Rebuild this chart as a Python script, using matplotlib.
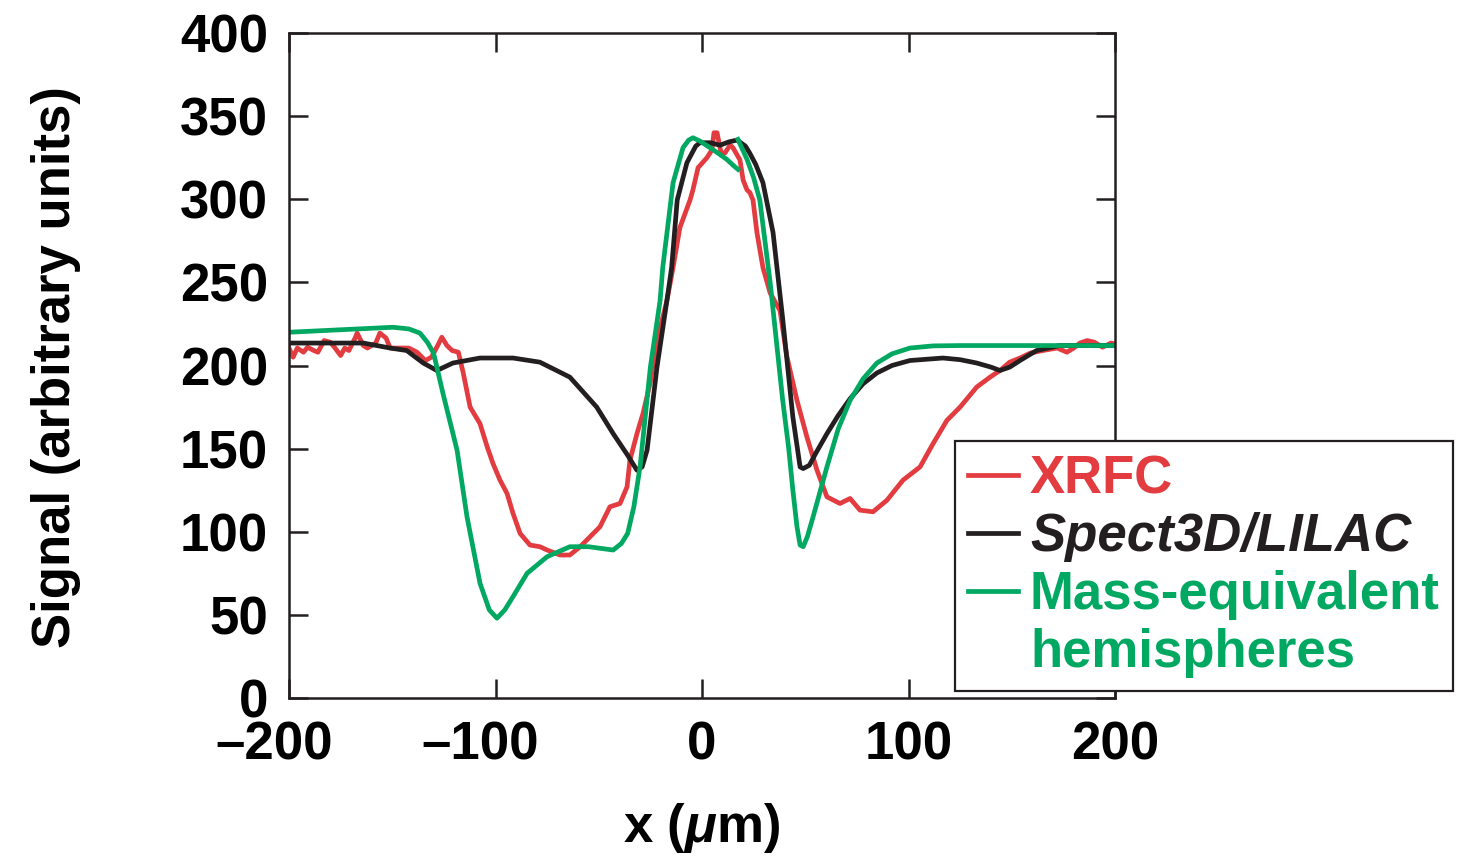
import numpy as np
import matplotlib
matplotlib.use("Agg")
import matplotlib.pyplot as plt
import matplotlib.transforms as mtransforms
from matplotlib.lines import Line2D
from matplotlib.ticker import FixedFormatter

plt.rcParams['font.family'] = ['Liberation Sans', 'DejaVu Sans']
plt.rcParams['font.weight'] = 'bold'
plt.rcParams['mathtext.fontset'] = 'custom'
plt.rcParams['mathtext.it'] = 'Liberation Sans:italic:bold'
plt.rcParams['mathtext.rm'] = 'Liberation Sans:bold'

xrfc_x = [-200, -198, -196, -193, -191, -188, -186, -183, -180, -178, -175, -173, -171, -168, -167,
          -164, -162, -158, -156, -153, -151, -147, -142, -138, -134, -131, -128, -126, -123.5, -121,
          -118, -115.7, -112.3, -107.5, -104, -101.2, -97.8, -94.4, -91.5, -88.1, -83.3, -78.5, -75,
          -68.8, -64, -59, -54.2, -49.4, -44.6, -39.7, -36.3, -34.9, -31.5, -28.6, -25.2, -21.8, -17,
          -14, -10.7, -5.8, -4.4, -1.9, 2.4, 4.8, 5.8, 7.3, 9.2, 11.1, 13.6, 15, 18.4, 19.9, 21.8,
          23.2, 24.7, 26.6, 29.5, 33, 37.8, 41, 46, 50.8, 55.7, 60.5, 66.8, 71.7, 76.5, 82.8, 89.6,
          97.3, 105.6, 111.9, 118.6, 125, 133, 139.5, 144.3, 149, 154, 159, 165, 172, 176.7, 180,
          183, 186.5, 190, 194, 198, 200]
xrfc_y = [210.5, 205, 210.5, 208, 211, 209, 208, 215, 214, 211, 206, 210.5, 209, 216.5, 219.5,
          212, 210.5, 213.5, 219.5, 216.5, 210.5, 210.5, 210.5, 208, 203, 205, 212, 217, 212, 209,
          208, 196, 175, 165, 151, 141, 131, 123, 111, 99, 92, 91, 89,
          86, 86, 91, 97, 103, 115, 117, 127, 143, 159, 171, 189, 215, 239,
          259, 283, 299.5, 305.6, 319, 325, 329.6, 340, 340, 328, 327.8, 332.6, 331, 323.6, 311.6, 305.6,
          304, 299.5, 280, 259, 243.6, 233, 206, 179, 157, 137, 121, 117, 120, 113, 112, 119,
          131, 139, 153, 167, 175, 187, 193, 197, 202, 204.5, 207.5, 209, 210.5, 208, 210.5,
          213.5, 215, 214, 211, 213.5, 213]

# Spect3D/LILAC simulation
sim_x = [-200, -164, -151, -143, -135, -128.4, -120.6, -107.5, -91.5, -78.5, -64, -51, -43, -36,
         -31.5, -29, -26.6, -21.8, -17, -14.7, -12, -7.3, -3, -1, 4, 8.7, 13, 17, 21, 23, 26, 29.5,
         34.4, 39, 44, 47.5, 49, 52, 55, 60.5, 66, 71.7, 78, 84.7, 92, 100.7, 116.7, 125, 133, 140,
         144.3, 149, 154, 162, 173, 200]
sim_y = [213.5, 213.5, 210.5, 209, 201.5, 197, 201.5, 204.5, 204.5, 202, 193, 175, 159, 146,
         137, 139, 149, 199, 239, 259, 299.5, 322, 332, 334, 334, 332.5, 334.5, 335.6, 332, 328, 321, 310,
         280, 229, 169, 139, 138, 140, 147, 159, 170, 180, 189, 195.5, 200, 203, 204.5, 203.5, 201.5, 199,
         197, 199, 203, 209, 212, 212]

# mass-equivalent hemispheres (two pieces, NaN splits them)
hemi_x = [-200, -175, -149.6, -142, -136.6, -133, -130, -125.4, -118.6, -113.8, -107.5, -103, -99.3,
          -95.5, -91.5, -84.7, -75, -64, -55, -43, -39, -36, -33, -30, -25, -20.3, -19, -14, -9.2,
          -6.5, -4.4, -1, 3.9, 8, 12, 15, 17.4, np.nan, 17.4, 21.8, 25, 28, 33, 36, 39, 42, 44, 46,
          47.5, 49, 51, 53.8, 60.5, 66, 71.7, 78, 84.7, 92, 100.7, 112, 125, 200]
hemi_y = [220, 221.5, 223, 222, 219.5, 214, 207.5, 183, 149, 109, 69, 53, 48,
          53, 61, 75, 85, 91, 91, 89, 93, 99, 115, 139, 199, 239, 259, 310, 331,
          335.5, 337, 335, 331, 327.5, 324, 320.5, 318, np.nan, 336, 324, 313, 299.5, 250, 215, 180, 150, 125, 103,
          92, 91, 97, 109, 139, 162, 179, 192, 201.5, 207, 210.5, 211.8, 212, 212]

x_ticks = [-200, -100, 0, 100, 200]
x_ticklabels = ['\u2013200', '\u2013100', '0', '100', '200']
y_ticks = [0, 50, 100, 150, 200, 250, 300, 350, 400]

red = '#E23B40'
blk = '#231F20'
grn = '#00A862'

fig = plt.figure(figsize=(14.7, 8.56), dpi=100)
ax = fig.add_axes([289/1470, 1 - 698/856, 826/1470, 665/856])

ax.plot(xrfc_x, xrfc_y, color=red, lw=3.4, solid_joinstyle='round')
ax.plot(sim_x, sim_y, color=blk, lw=3.4, solid_joinstyle='round')
ax.plot(hemi_x, hemi_y, color=grn, lw=3.4, solid_joinstyle='round')

ax.set_xlim(-200, 200)
ax.set_ylim(0, 400)
ax.set_xticks(x_ticks)
ax.xaxis.set_major_formatter(FixedFormatter(x_ticklabels))
ax.set_yticks(y_ticks)
for s in ax.spines.values():
    s.set_linewidth(1.8)
    s.set_color(blk)
ax.tick_params(direction='in', length=14, width=1.8, color=blk, top=True, right=True, labelsize=38)
ax.tick_params(axis='y', pad=15)
ax.tick_params(axis='x', pad=16)

# dash hangs left of the tick so the digits stay centred
shift = mtransforms.ScaledTranslation(-15/100, 0, fig.dpi_scale_trans)
for lab in ax.get_xticklabels():
    if lab.get_text().startswith('\u2013'):
        lab.set_transform(lab.get_transform() + shift)

fig.text(0.038, 1 - 367/856, 'Signal (arbitrary units)', rotation=90, ha='center', va='center', fontsize=38)
fig.text(702/1470, 1 - 828/856, r'x ($\mu$m)', ha='center', va='center', fontsize=38)

handles = [Line2D([], [], color=red, lw=3.4), Line2D([], [], color=blk, lw=3.4),
           Line2D([], [], color=grn, lw=3.4), Line2D([], [], color='none')]
labels = ['XRFC', 'Spect3D/LILAC', 'Mass-equivalent', 'hemispheres']
leg = ax.legend(handles, labels, loc='upper left', bbox_to_anchor=(955/1470, 1 - 441/856),
                bbox_transform=fig.transFigure, borderaxespad=0, fontsize=38, frameon=True,
                fancybox=False, edgecolor=blk, framealpha=1, handlelength=0.94,
                handletextpad=0.23, labelspacing=0.15, borderpad=0.25)
leg.get_frame().set_linewidth(1.6)
for t, c in zip(leg.get_texts(), [red, blk, grn, grn]):
    t.set_color(c)
leg.get_texts()[1].set_fontstyle('italic')

fig.savefig('out.png', dpi=100)
